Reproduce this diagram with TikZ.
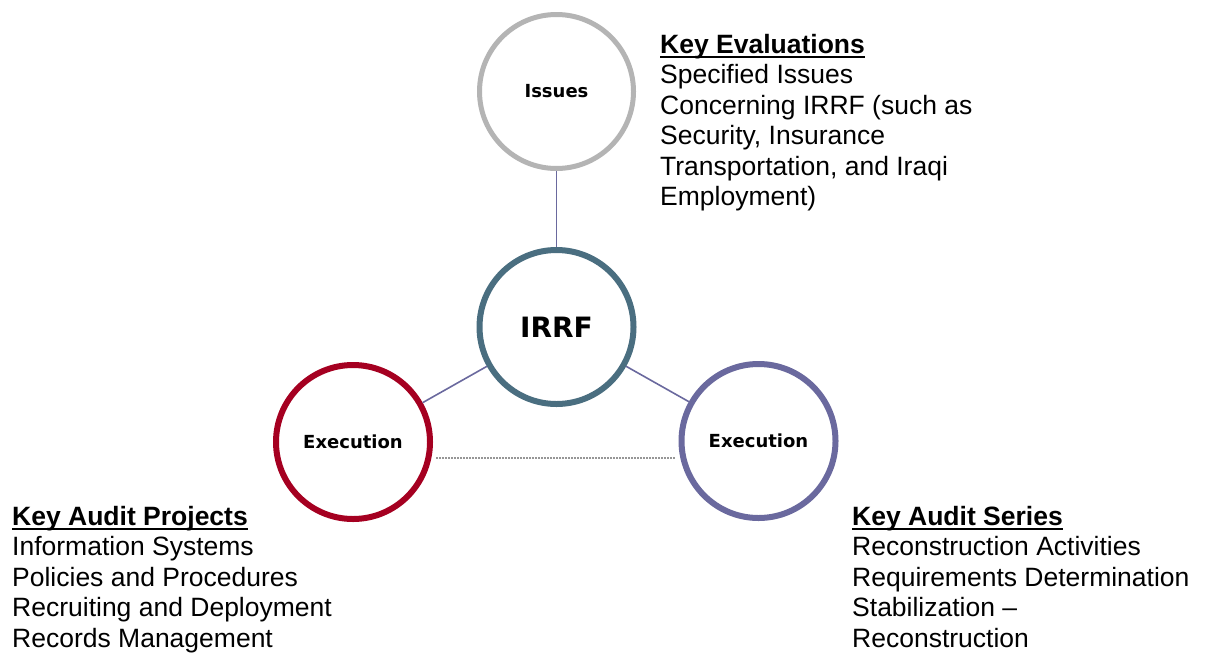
\documentclass[tikz,border=0pt]{standalone}
\usepackage{fontspec}
\setmainfont{Liberation Sans}
\newfontfamily\circfont{DejaVu Sans}
\usetikzlibrary{positioning}

\definecolor{issuegray}{RGB}{180,180,180}
\definecolor{irrfblue}{RGB}{74,110,128}
\definecolor{execred}{RGB}{165,0,33}
\definecolor{execpurple}{RGB}{106,105,158}
\definecolor{dotgray}{RGB}{150,150,150}

\newcommand{\keyhead}[1]{\setbox0\hbox{\textbf{#1}}\rlap{\rule[-5pt]{\wd0}{2.4pt}}\box0}

\tikzset{
	ring/.style={circle, draw, line width=6pt, minimum size=154pt, inner sep=0pt, fill=white, font=\circfont\bfseries\fontsize{18}{20}\selectfont},
	link/.style={draw=execpurple, line width=1.6pt},
	note/.style={anchor=north west, inner sep=0pt, align=left, font=\fontsize{26.5}{30.5}\selectfont}
}

\begin{document}
\begin{tikzpicture}[x=1pt, y=-1pt]
	\useasboundingbox (0,0) rectangle (1206,654);

	\node[ring, draw=irrfblue, font=\circfont\bfseries\fontsize{28}{30}\selectfont] (irrf) at (556.5,327) {IRRF};
	\node[ring, draw=issuegray, line width=5pt, above=76pt of irrf] (issues) {Issues};
	\node[ring, draw=execred] (projects) at (353,442) {Execution};
	\node[ring, draw=execpurple] (series) at (758.5,441) {Execution};

	\draw [link]
		(irrf) edge (issues)
		(irrf) edge (projects)
		(irrf) edge (series)
		;
	\draw [dotgray, line width=1.2pt, dash pattern=on 1.5pt off 1.5pt]
		([xshift=3pt, yshift=-16pt]projects.east) -- ([xshift=-4pt, yshift=-17pt]series.west);

	\node[note] (evals) at (660,34) {\keyhead{Key Evaluations}\\Specified Issues\\Concerning IRRF (such as\\Security, Insurance\\Transportation, and Iraqi\\Employment)};
	\node[note] (projlist) at (12,506) {\keyhead{Key Audit Projects}\\Information Systems\\Policies and Procedures\\Recruiting and Deployment\\Records Management};
	\node[note] (serieslist) at (852,506) {\keyhead{Key Audit Series}\\Reconstruction Activities\\Requirements Determination\\Stabilization --\\Reconstruction};
\end{tikzpicture}
\end{document}
